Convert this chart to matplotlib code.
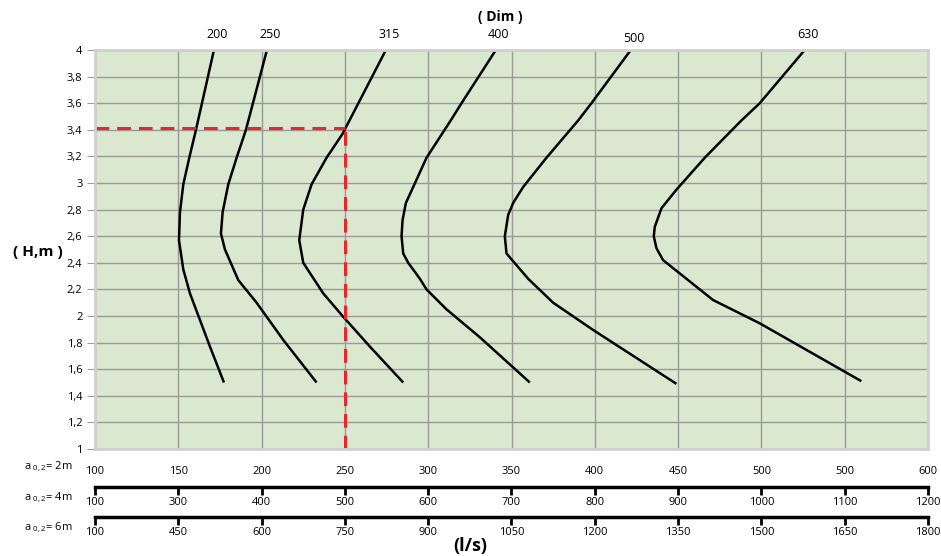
import numpy as np
import matplotlib
matplotlib.use("Agg")
import matplotlib.pyplot as plt

plt.rcParams['font.family'] = ['Open Sans', 'DejaVu Sans']

# flow grid (l/s) and bottom scale labels
grid_q = [100, 150, 200, 250, 300, 350, 400, 450, 500, 550, 600]
row1_labels = ["100", "150", "200", "250", "300", "350", "400", "450", "500", "500", "600"]
row2_labels = ["100", "300", "400", "500", "600", "700", "800", "900", "1000", "1100", "1200"]
row3_labels = ["100", "450", "600", "750", "900", "1050", "1200", "1350", "1500", "1650", "1800"]
row_names = ["2m", "4m", "6m"]

h_ticks = [1, 1.2, 1.4, 1.6, 1.8, 2, 2.2, 2.4, 2.6, 2.8, 3, 3.2, 3.4, 3.6, 3.8, 4]

# curves per diameter: flow (l/s), head (m)
dims = ["200", "250", "315", "400", "500", "630"]
q_200 = [171.4, 160.6, 156.6, 153, 151, 150.4, 153, 157, 163, 169, 177.4]
h_200 = [4.0, 3.40, 3.19, 2.99, 2.78, 2.57, 2.35, 2.17, 1.97, 1.77, 1.5]
q_250 = [203.2, 190.6, 185, 180, 176.6, 175.6, 178, 186, 197, 213, 233]
h_250 = [4.0, 3.40, 3.19, 2.99, 2.78, 2.62, 2.5, 2.27, 2.1, 1.82, 1.5]
q_315 = [274.6, 248.6, 239, 230, 225, 222.6, 225, 237, 248.6, 265, 285]
h_315 = [4.0, 3.37, 3.19, 2.99, 2.80, 2.57, 2.4, 2.17, 2.0, 1.77, 1.5]
q_400 = [340.6, 320, 313.5, 299, 291, 286.6, 284.6, 284, 285, 288, 295, 299, 311, 331, 361]
h_400 = [4.0, 3.6, 3.47, 3.19, 2.97, 2.85, 2.72, 2.6, 2.47, 2.4, 2.28, 2.2, 2.05, 1.84, 1.5]
q_500 = [421.6, 398, 390, 371, 357, 351, 348, 346, 347, 360, 375, 399, 449]
h_500 = [4.0, 3.6, 3.47, 3.19, 2.97, 2.85, 2.76, 2.6, 2.47, 2.28, 2.1, 1.895, 1.49]
q_630 = [526, 499, 488, 466, 449, 440, 436, 435.4, 437, 441, 455, 471, 499, 560]
h_630 = [4.0, 3.6, 3.47, 3.19, 2.95, 2.81, 2.67, 2.6, 2.51, 2.42, 2.28, 2.12, 1.945, 1.51]
curves = [(q_200, h_200), (q_250, h_250), (q_315, h_315),
          (q_400, h_400), (q_500, h_500), (q_630, h_630)]
label_dy = [15, 15, 15, 15, 12, 15]

# example duty point
point_q = 250
point_h = 3.41

fig = plt.figure(figsize=(9.41, 5.56), dpi=100)
ax = fig.add_axes([95 / 941, 1 - 449 / 556, 833 / 941, 399 / 556])
ax.set_facecolor('#d9e8cf')
ax.set_xlim(100, 600)
ax.set_ylim(1, 4)

ax.grid(True, color='#9a9a9a', linewidth=1)
ax.set_axisbelow(True)
for s in ax.spines.values():
    s.set_color('#d0d0d0')
    s.set_linewidth(2)

ax.set_yticks(h_ticks, labels=[("%g" % v).replace('.', ',') for v in h_ticks])
ax.tick_params(axis='y', length=6, color='#9a9a9a', labelsize=8, pad=3)
ax.set_xticks(grid_q, labels=row1_labels)
ax.tick_params(axis='x', length=0, labelsize=8, pad=12)

for (q, h), d, dy in zip(curves, dims, label_dy):
    ax.plot(q, h, color='black', linewidth=1.8, solid_joinstyle='round',
            solid_capstyle='butt')
    ax.annotate(d, (q[0], h[0]), xytext=(3, dy), textcoords='offset pixels',
                ha='center', va='center', fontsize=9, annotation_clip=False)

ax.plot([100, point_q], [point_h, point_h], color='#e8262b', linewidth=2.2,
        linestyle=(0, (4.5, 2.6)))
ax.plot([point_q, point_q], [1, point_h], color='#e8262b', linewidth=2.2,
        linestyle=(0, (4.5, 2.6)))

for loc, labels in [(-0.0955, row2_labels), (-0.171, row3_labels)]:
    sec = ax.secondary_xaxis(loc)
    sec.set_xticks(grid_q, labels=labels)
    sec.spines['bottom'].set_linewidth(2.5)
    sec.spines['bottom'].set_color('black')
    sec.tick_params(direction='out', length=6, width=2, pad=1, labelsize=8)

row_y = [467, 498, 528]
for name, y in zip(row_names, row_y):
    fig.text(73 / 941, 1 - y / 556, r'a$_{\ \mathregular{0,2}}$= ' + name,
             ha='right', va='center', fontsize=8)

fig.text(500 / 941, 1 - 17 / 556, '( Dim )', ha='center', va='center',
         fontsize=10, fontweight='bold')
fig.text(38 / 941, 1 - 252 / 556, '( H,m )', ha='center', va='center',
         fontsize=11, fontweight='bold')
fig.text(470 / 941, 1 - 546 / 556, '(l/s)', ha='center', va='center',
         fontsize=13, fontweight='bold')

fig.savefig('out.png', dpi=100)
